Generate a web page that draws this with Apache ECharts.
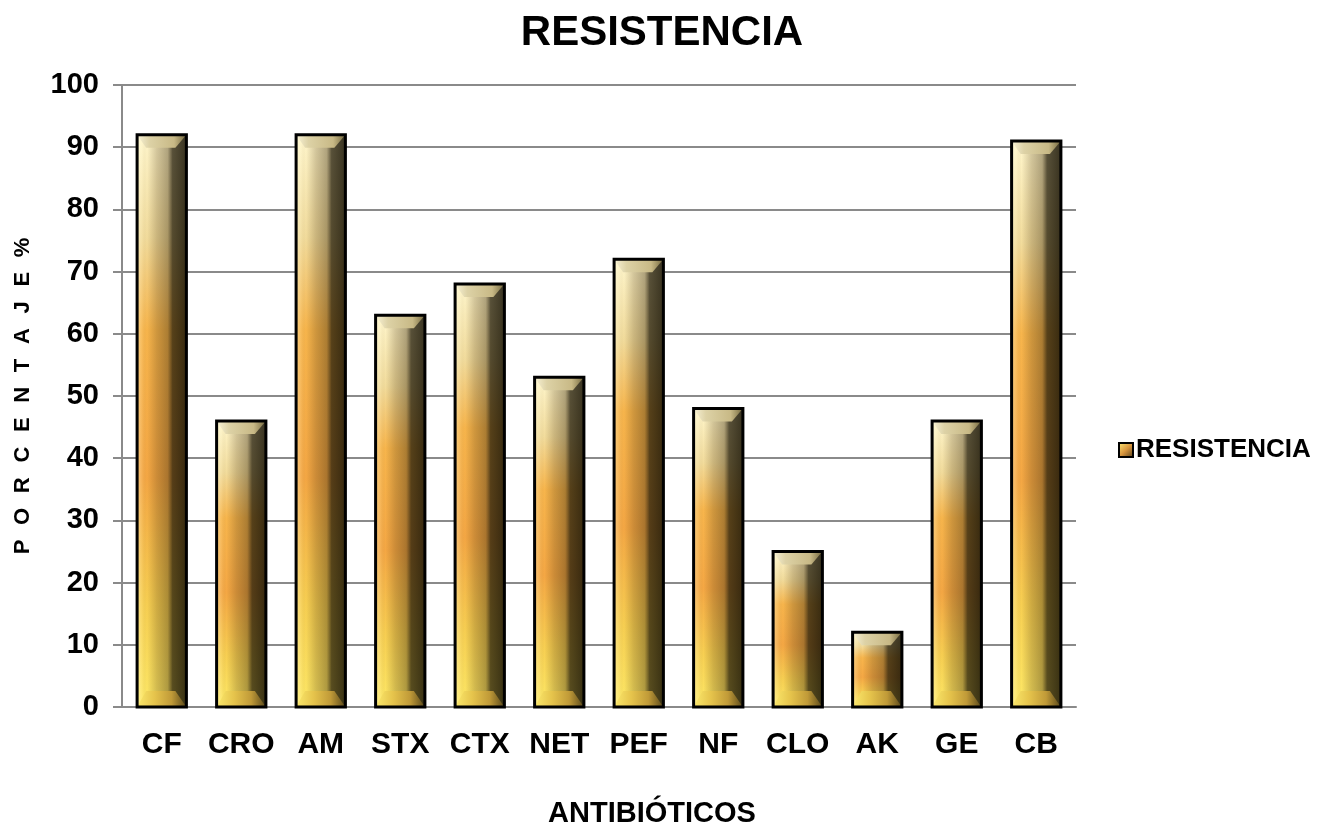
<!DOCTYPE html>
<html>
<head>
<meta charset="utf-8">
<script src="https://cdn.jsdelivr.net/npm/echarts@6/dist/echarts.min.js"></script>
<style>
  html, body { margin: 0; padding: 0; background: #ffffff; }
  #chart { width: 1334px; height: 828px; }
</style>
</head>
<body>
<div id="chart"></div>
<script>
// Antibiotic resistance percentages
const categories = ['CF', 'CRO', 'AM', 'STX', 'CTX', 'NET', 'PEF', 'NF', 'CLO', 'AK', 'GE', 'CB'];
const resistencia = [92, 46, 92, 63, 68, 53, 72, 48, 25, 12, 46, 91];
const yTicks = [0, 10, 20, 30, 40, 50, 60, 70, 80, 90, 100];

const FONT = 'Liberation Sans, Arial, sans-serif';
const LG = echarts.graphic.LinearGradient;

function grad(x2, y2, pairs) {
  return new LG(0, 0, x2, y2, pairs.map(p => ({ offset: p[0], color: p[1] })));
}

// Bevelled gold bar: shaded body, top and bottom caps, dark outline
function renderBevelBar(params, api) {
  const idx = api.value(0);
  const val = api.value(1);
  const top = api.coord([idx, val]);
  const base = api.coord([idx, 0]);
  const w = api.size([1, 0])[0] * 0.62;
  const x0 = top[0] - w / 2, x1 = top[0] + w / 2;
  const yT = top[1], yB = base[1];
  const h = yB - yT;
  const bt = Math.min(13, h / 4);
  const bb = Math.min(16, h / 4);
  const inL = 9, inR = 11;

  const children = [
    { // body colour: pale top, orange middle, yellow bottom
      type: 'rect',
      shape: { x: x0, y: yT, width: w, height: h },
      style: {
        fill: grad(0, 1, [
          [0, '#fff6cc'], [0.18, '#f2dc9c'], [0.34, '#f7b54c'],
          [0.6, '#f4a744'], [0.82, '#f7cf52'], [1, '#fde866']
        ])
      }
    },
    { // horizontal shading: highlight left, deep shadow right
      type: 'rect',
      shape: { x: x0, y: yT, width: w, height: h },
      style: {
        fill: grad(1, 0, [
          [0, 'rgba(255,255,230,0.35)'], [0.1, 'rgba(255,255,230,0.1)'],
          [0.2, 'rgba(60,40,10,0.0)'], [0.4, 'rgba(60,40,10,0.22)'],
          [0.62, 'rgba(50,35,10,0.38)'], [0.72, 'rgba(30,24,8,0.74)'],
          [1, 'rgba(25,20,6,0.86)']
        ])
      }
    },
    { // top cap
      type: 'polygon',
      shape: { points: [[x0, yT], [x1, yT], [x1 - inR, yT + bt], [x0 + inL, yT + bt]] },
      style: { fill: grad(1, 0, [[0, '#f8f2d6'], [0.25, '#ddd2a6'], [0.75, '#c8b986'], [1, '#74683f']]) }
    },
    { // bottom cap
      type: 'polygon',
      shape: { points: [[x0, yB], [x1, yB], [x1 - inR, yB - bb], [x0 + inL, yB - bb]] },
      style: { fill: grad(1, 0, [[0, '#fbe86c'], [0.35, '#e6c44c'], [0.7, '#c09a38'], [1, '#5a481a']]) }
    },
    { // outline
      type: 'rect',
      shape: { x: x0, y: yT, width: w, height: h },
      style: { fill: 'none', stroke: '#000000', lineWidth: 3 }
    }
  ];
  return { type: 'group', children: children };
}

const chart = echarts.init(document.getElementById('chart'), null, { renderer: 'canvas' });

chart.setOption({
  backgroundColor: '#ffffff',
  animation: false,
  title: {
    text: 'RESISTENCIA',
    left: 657,
    top: 7,
    textAlign: 'center',
    textStyle: { fontFamily: FONT, fontWeight: 'bold', fontSize: 42, color: '#000000' }
  },
  legend: {
    data: ['RESISTENCIA'],
    left: 1113,
    top: 432,
    orient: 'vertical',
    icon: 'rect',
    itemWidth: 14,
    itemHeight: 14,
    itemGap: 4,
    textStyle: { fontFamily: FONT, fontWeight: 'bold', fontSize: 26, color: '#000000', padding: [0, 0, 0, -2] },
    itemStyle: {
      color: grad(1, 1, [[0, '#fff07a'], [0.5, '#d9963e'], [1, '#4a3818']]),
      borderColor: '#000000',
      borderWidth: 2
    }
  },
  grid: { left: 122, right: 258, top: 85, bottom: 121, containLabel: false, outerBoundsMode: 'none' },
  xAxis: {
    type: 'category',
    data: categories,
    name: 'ANTIBIÓTICOS',
    nameLocation: 'middle',
    nameGap: 92,
    nameTextStyle: { fontFamily: FONT, fontWeight: 'bold', fontSize: 29, color: '#000000', padding: [0, 0, 0, 106] },
    axisLine: { lineStyle: { color: '#8a8a8a', width: 2 } },
    axisTick: { show: false },
    axisLabel: { interval: 0, fontFamily: FONT, fontWeight: 'bold', fontSize: 30, color: '#000000', margin: 23 },
    splitLine: { show: false }
  },
  yAxis: {
    type: 'value',
    min: yTicks[0],
    max: yTicks[yTicks.length - 1],
    interval: yTicks[1] - yTicks[0],
    name: 'P\u2002\u2006O\u2002\u2006R\u2002\u2006C\u2002\u2006E\u2002\u2006N\u2002\u2006T\u2002\u2006A\u2002\u2006J\u2002\u2006E\u2002\u2006%',
    nameLocation: 'middle',
    nameGap: 88,
    nameRotate: 90,
    nameTextStyle: { fontFamily: FONT, fontWeight: 'bold', fontSize: 22, color: '#000000' },
    axisLine: { show: true, lineStyle: { color: '#8a8a8a', width: 2 } },
    axisTick: { show: true, length: 9, lineStyle: { color: '#8a8a8a', width: 2 } },
    axisLabel: { fontFamily: FONT, fontWeight: 'bold', fontSize: 29, color: '#000000', margin: 23 },
    splitLine: { lineStyle: { color: '#8a8a8a', width: 2 } }
  },
  series: [{
    name: 'RESISTENCIA',
    type: 'custom',
    renderItem: renderBevelBar,
    encode: { x: 0, y: 1 },
    data: resistencia.map((v, i) => [i, v]),
    itemStyle: { color: '#d9963e' }
  }]
});
</script>
</body>
</html>
